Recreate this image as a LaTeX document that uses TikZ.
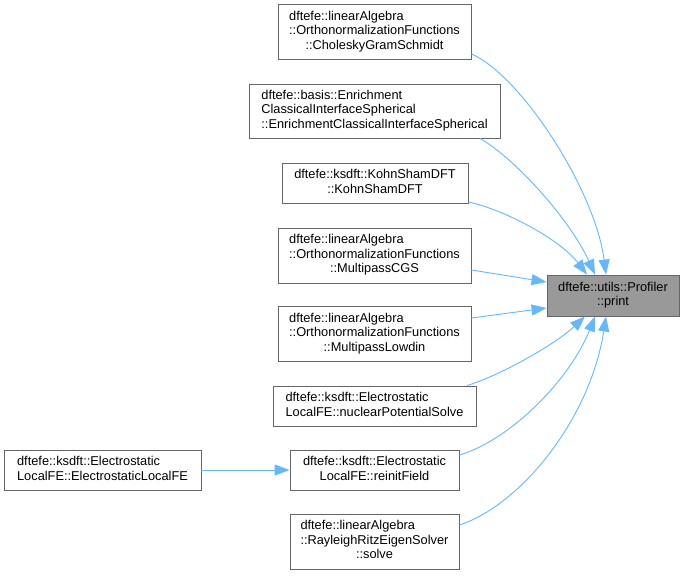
\documentclass[tikz,border=0pt]{standalone}
\usepackage{fontspec}
\setmainfont{Liberation Sans}
\usetikzlibrary{arrows.meta}
\definecolor{edgeblue}{HTML}{63B8FF}
\definecolor{boxgray}{HTML}{666666}
\definecolor{nodegray}{HTML}{999999}
\newcommand{\tlines}[2]{\begin{tabular}{@{}l@{}}#1\\\multicolumn{1}{@{}c@{}}{#2}\end{tabular}}
\newcommand{\clines}[1]{\begin{tabular}{@{}c@{}}#1\end{tabular}}
\tikzset{
  box/.style={draw=boxgray, fill=white, line width=0.9pt, inner sep=0pt,
    font=\fontsize{12.8}{14.5}\selectfont},
  edge/.style={draw=edgeblue, line width=0.9pt,
    -{Triangle[length=15pt,width=11pt,fill=edgeblue]}},
}
\begin{document}
\begin{tikzpicture}[x=1pt,y=-1pt]
\useasboundingbox (0,0) rectangle (684,575);

\node[box, minimum width=193pt, minimum height=55pt] (chol) at (374.5,32)
  {\tlines{dftefe::linearAlgebra\\::OrthonormalizationFunctions}{::CholeskyGramSchmidt}};
\node[box, minimum width=251pt, minimum height=54pt] (enrich) at (374.5,111)
  {\tlines{dftefe::basis::Enrichment\\ClassicalInterfaceSpherical}{::EnrichmentClassicalInterfaceSpherical}};
\node[box, minimum width=186pt, minimum height=40pt] (kohn) at (375,183)
  {\tlines{dftefe::ksdft::KohnShamDFT}{::KohnShamDFT}};
\node[box, minimum width=193pt, minimum height=55pt] (cgs) at (374.5,255.5)
  {\tlines{dftefe::linearAlgebra\\::OrthonormalizationFunctions}{::MultipassCGS}};
\node[box, minimum width=193pt, minimum height=55pt] (lowdin) at (374.5,334)
  {\tlines{dftefe::linearAlgebra\\::OrthonormalizationFunctions}{::MultipassLowdin}};
\node[box, minimum width=203pt, minimum height=40pt] (nuclear) at (374.5,406)
  {\tlines{dftefe::ksdft::Electrostatic}{LocalFE::nuclearPotentialSolve}};
\node[box, minimum width=169pt, minimum height=40pt] (reinit) at (374.5,470)
  {\tlines{dftefe::ksdft::Electrostatic}{LocalFE::reinitField}};
\node[box, minimum width=169pt, minimum height=55pt] (rayleigh) at (374.5,541.5)
  {\tlines{dftefe::linearAlgebra\\::RayleighRitzEigenSolver}{::solve}};
\node[box, minimum width=197pt, minimum height=40pt] (elfe) at (102.5,470)
  {\tlines{dftefe::ksdft::Electrostatic}{LocalFE::ElectrostaticLocalFE}};
\node[box, fill=nodegray, minimum width=132pt, minimum height=41pt] (prof) at (613,295.5)
  {\clines{dftefe::utils::Profiler\\::print}};

\draw[edge] ([yshift=-22pt]chol.east) .. controls +(49,21) and +(-11,-85) .. ([xshift=-7pt]prof.north);
\draw[edge] ([xshift=105.5pt]enrich.south) .. controls +(35,20) and +(-25,-55) .. ([xshift=-18pt]prof.north);
\draw[edge] ([yshift=-19pt]kohn.east) .. controls +(37,8) and +(-27,-35) .. ([xshift=-26pt]prof.north);
\draw[edge] ([yshift=-14.5pt]cgs.east) -- ([yshift=13.5pt]prof.west);
\draw[edge] ([yshift=16pt]lowdin.east) -- ([yshift=-12.5pt]prof.west);
\draw[edge] ([xshift=92.5pt]nuclear.north) .. controls +(33,-10) and +(-30,28) .. ([xshift=-28pt]prof.south);
\draw[edge] ([yshift=15pt]reinit.east) .. controls +(51,-15) and +(-25,63) .. ([xshift=-18pt]prof.south);
\draw[edge] ([yshift=16.5pt]rayleigh.east) .. controls +(61,-20) and +(-16,103) .. ([xshift=-7pt]prof.south);
\draw[edge] (elfe.east) -- (reinit.west);
\end{tikzpicture}
\end{document}
